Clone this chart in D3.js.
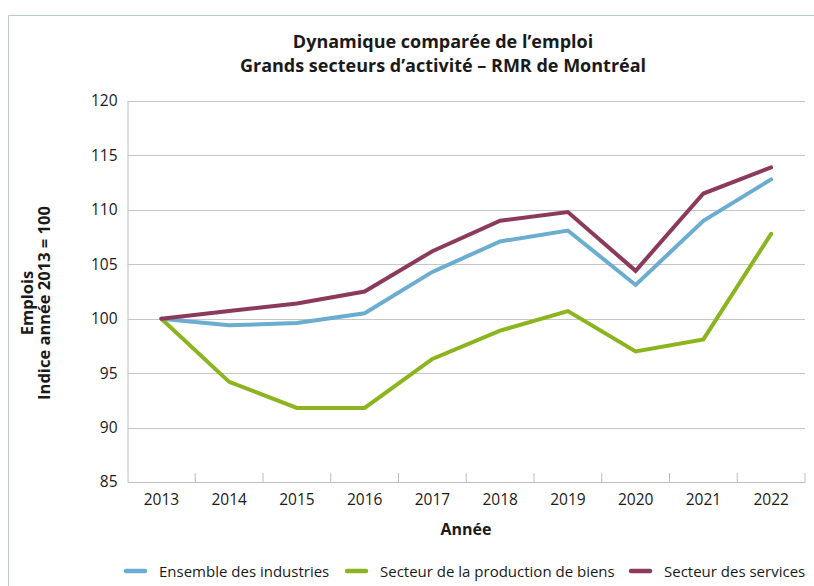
<!DOCTYPE html>
<html>
<head>
<meta charset="utf-8">
<script src="https://cdn.jsdelivr.net/npm/d3@7"></script>
<style>
	body { margin: 0; background: #fff; }
	svg { font-family: "Open Sans", sans-serif; }
</style>
</head>
<body>
<div id="chart"></div>
<script>
// chart data
const YEARS = ['2013', '2014', '2015', '2016', '2017', '2018', '2019', '2020', '2021', '2022'];
const ENSEMBLE = [100, 99.4, 99.6, 100.5, 104.3, 107.1, 108.1, 103.1, 109.0, 112.8];
const BIENS = [100, 94.2, 91.8, 91.8, 96.3, 98.9, 100.7, 97.0, 98.1, 107.8];
const SERVICES = [100, 100.7, 101.4, 102.5, 106.2, 109.0, 109.8, 104.4, 111.5, 113.9];
const Y_TICKS = [85, 90, 95, 100, 105, 110, 115, 120];
const SERIES_NAMES = ['Ensemble des industries', 'Secteur de la production de biens', 'Secteur des services'];
const COLORS = ['#6aadd0', '#8cb41e', '#8c3a5b'];

const FRAME_WIDTH = 814;
const FRAME_HEIGHT = 586;
const MARGINS = {left: 127.5, right: 9, top: 101, bottom: 104};
const VIS_WIDTH = FRAME_WIDTH - MARGINS.left - MARGINS.right;
const VIS_HEIGHT = FRAME_HEIGHT - MARGINS.top - MARGINS.bottom;

const svg = d3.select('#chart')
	.append('svg')
		.attr('width', FRAME_WIDTH)
		.attr('height', FRAME_HEIGHT);

// outer frame (cut off on the right / bottom)
svg.append('path')
	.attr('d', 'M8.5,586 V15.5 H814')
	.attr('fill', 'none')
	.attr('stroke', '#b9cad8')
	.attr('stroke-width', 1);

// scales
const xscale = d3.scaleBand()
	.domain(YEARS)
	.range([0, VIS_WIDTH]);
const yscale = d3.scaleLinear()
	.domain([85, 120])
	.range([VIS_HEIGHT, 0]);

const g = svg.append('g')
	.attr('transform', 'translate(' + MARGINS.left + ',' + MARGINS.top + ')');

// gridlines
g.selectAll('.grid')
	.data(Y_TICKS.slice(1))
	.enter()
	.append('line')
		.attr('x1', 0)
		.attr('x2', VIS_WIDTH)
		.attr('y1', (d) => Math.round(yscale(d)) + 0.5)
		.attr('y2', (d) => Math.round(yscale(d)) + 0.5)
		.attr('stroke', '#c6c6c6')
		.attr('stroke-width', 1);

// y axis
const yAxis = g.append('g')
	.call(d3.axisLeft(yscale).tickValues(Y_TICKS).tickSize(0).tickPadding(10));
yAxis.select('.domain').attr('stroke', '#bdbdbd');
yAxis.selectAll('text')
	.attr('font-size', '15.5px')
	.attr('fill', '#1a1a1a')
	.attr('font-family', '"Open Sans", sans-serif');

// x axis, ticks between categories pointing up
const xAxis = g.append('g')
	.attr('transform', 'translate(0,' + VIS_HEIGHT + ')')
	.call(d3.axisBottom(xscale).tickSize(0).tickPadding(12));
xAxis.select('.domain').attr('stroke', '#bdbdbd');
xAxis.selectAll('text')
	.attr('font-size', '15.5px')
	.attr('fill', '#1a1a1a')
	.attr('font-family', '"Open Sans", sans-serif');

g.selectAll('.xtick')
	.data(YEARS)
	.enter()
	.append('line')
		.attr('x1', (d) => xscale(d) + xscale.bandwidth())
		.attr('x2', (d) => xscale(d) + xscale.bandwidth())
		.attr('y1', VIS_HEIGHT)
		.attr('y2', VIS_HEIGHT - 9)
		.attr('stroke', '#bdbdbd');

// lines
const line = d3.line()
	.x((d, i) => xscale(YEARS[i]) + xscale.bandwidth() / 2)
	.y((d) => yscale(d));

[ENSEMBLE, BIENS, SERVICES].forEach((vals, i) => {
	g.append('path')
		.datum(vals)
		.attr('d', line)
		.attr('fill', 'none')
		.attr('stroke', COLORS[i])
		.attr('stroke-width', 4)
		.attr('stroke-linejoin', 'miter')
		.attr('stroke-linecap', 'round');
});

// title
svg.append('text')
	.attr('x', 443)
	.attr('y', 48)
	.attr('text-anchor', 'middle')
	.attr('font-weight', 'bold')
	.attr('font-size', '18px')
	.attr('fill', '#1a1a1a')
	.text('Dynamique comparée de l\u2019emploi');
svg.append('text')
	.attr('x', 443)
	.attr('y', 72)
	.attr('text-anchor', 'middle')
	.attr('font-weight', 'bold')
	.attr('font-size', '18px')
	.attr('fill', '#1a1a1a')
	.text('Grands secteurs d\u2019activité \u2013 RMR de Montréal');

// axis titles
svg.append('text')
	.attr('transform', 'translate(33,303) rotate(-90)')
	.attr('text-anchor', 'middle')
	.attr('font-weight', 'bold')
	.attr('font-size', '16.5px')
	.attr('fill', '#1a1a1a')
	.text('Emplois');
svg.append('text')
	.attr('transform', 'translate(50,303) rotate(-90)')
	.attr('text-anchor', 'middle')
	.attr('font-weight', 'bold')
	.attr('font-size', '16.5px')
	.attr('fill', '#1a1a1a')
	.text('Indice année 2013 = 100');
svg.append('text')
	.attr('x', 466)
	.attr('y', 535)
	.attr('text-anchor', 'middle')
	.attr('font-weight', 'bold')
	.attr('font-size', '16px')
	.attr('fill', '#1a1a1a')
	.text('Année');

// legend
const LEGEND_X = [124, 345, 629];
const legend = svg.selectAll('.legend')
	.data(SERIES_NAMES)
	.enter()
	.append('g')
		.attr('transform', (d, i) => 'translate(' + LEGEND_X[i] + ',571)');
legend.append('line')
	.attr('x1', 2)
	.attr('x2', 21)
	.attr('stroke', (d, i) => COLORS[i])
	.attr('stroke-width', 4.5)
	.attr('stroke-linecap', 'round');
legend.append('text')
	.attr('x', 35)
	.attr('y', 5.5)
	.attr('font-size', '15px')
	.attr('fill', '#1a1a1a')
	.text((d) => d);
</script>
</body>
</html>
